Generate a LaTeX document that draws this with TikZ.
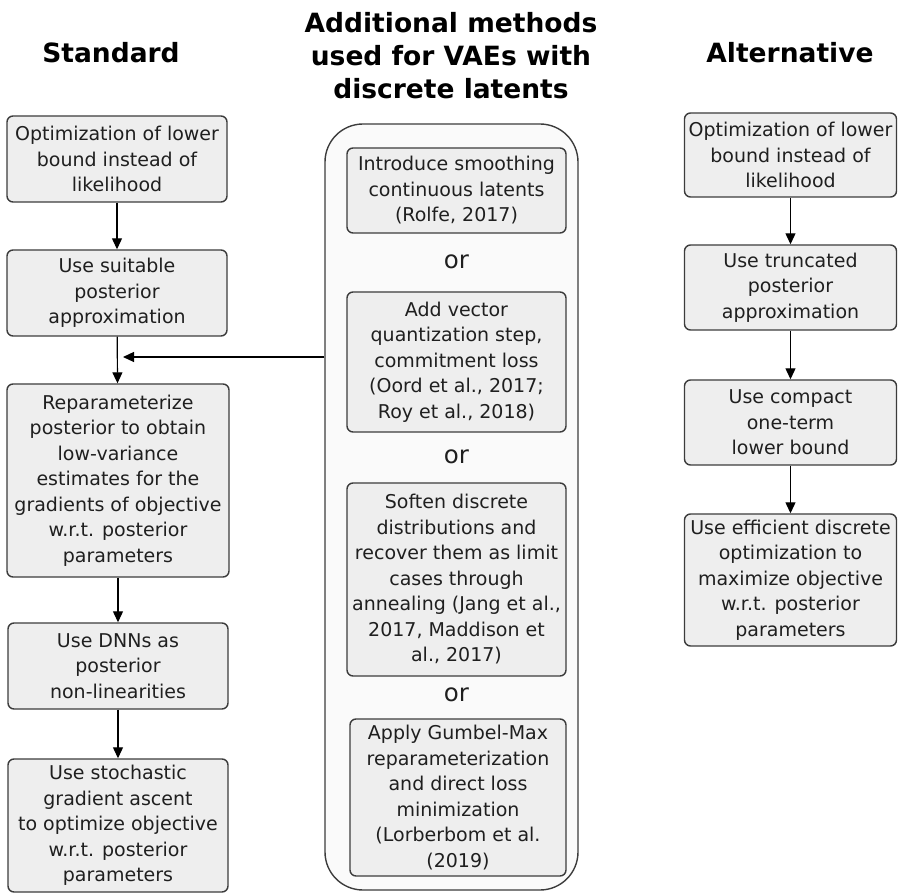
\documentclass[tikz,border=0pt]{standalone}
\usepackage{fontspec}
\setmainfont{DejaVu Sans}
\usetikzlibrary{arrows.meta}
\definecolor{boxfill}{HTML}{EEEEEE}
\definecolor{boxline}{HTML}{3C3C3C}
\definecolor{panelfill}{HTML}{FAFAFA}

\begin{document}
\begin{tikzpicture}[x=1pt,y=-1pt,
  stepbox/.style={draw=boxline,fill=boxfill,line width=1.4pt,rounded corners=6pt,
    align=center,inner sep=0pt,text=black!88,font=\fontsize{19}{25.5}\selectfont},
  headline/.style={font=\fontsize{26.5}{33}\selectfont\bfseries,align=center},
  ortext/.style={font=\fontsize{24.5}{30}\selectfont,text=black!88},
  flow/.style={line width=1.2pt,-{Triangle[length=11pt,width=10pt]}}]
\useasboundingbox (0,0) rectangle (898,893);
\node [headline,anchor=base] (hstd) at (111,63) {Standard};
\node [headline] (hadd) at (451,56) {Additional methods\\used for VAEs with\\discrete latents};
\node [headline,anchor=base] (halt) at (790,63) {Alternative};
\node [stepbox,minimum width=220pt,minimum height=86pt] (s1) at (117,159) {Optimization of lower\\bound instead of\\likelihood};
\node [stepbox,minimum width=220pt,minimum height=86pt] (s2) at (117,293) {Use suitable\\posterior\\approximation};
\node [stepbox,minimum width=222pt,minimum height=193pt] (s3) at (118,480.5) {Reparameterize\\posterior to obtain\\low-variance\\estimates for the\\gradients of objective\\w.r.t. posterior\\parameters};
\node [stepbox,minimum width=220pt,minimum height=86pt] (s4) at (118,666) {Use DNNs as\\posterior\\non-linearities};
\node [stepbox,minimum width=220pt,minimum height=133pt] (s5) at (118,825.5) {Use stochastic\\gradient ascent\\to optimize objective\\w.r.t. posterior\\parameters};
\draw [flow] (s1) -- (s2);
\draw [flow] (s2) -- (s3);
\draw [flow] (s3) -- (s4);
\draw [flow] (s4) -- (s5);
\node [draw=boxline,fill=panelfill,line width=1.4pt,rounded corners=38pt,
  minimum width=253pt,minimum height=766pt,inner sep=0pt] (panel) at (451.5,507) {};
\node [stepbox,minimum width=219pt,minimum height=85pt] (d1) at (456.5,190.5) {Introduce smoothing\\continuous latents\\(Rolfe, 2017)};
\node [ortext] (or1) at (456.5,262) {or};
\node [stepbox,minimum width=219pt,minimum height=140pt] (d2) at (456.5,362) {Add vector\\quantization step,\\commitment loss\\(Oord et al., 2017;\\Roy et al., 2018)};
\node [ortext] (or2) at (456.5,457) {or};
\node [stepbox,minimum width=219pt,minimum height=193pt] (d3) at (456.5,579.5) {Soften discrete\\distributions and\\recover them as limit\\cases through\\annealing (Jang et al.,\\2017, Maddison et\\al., 2017)};
\node [ortext] (or3) at (456.5,695) {or};
\node [stepbox,minimum width=216pt,minimum height=157pt] (d4) at (458,797.5) {Apply Gumbel-Max\\reparameterization\\and direct loss\\minimization\\(Lorberbom et al.\\(2019)};
\coordinate (join) at (123,357);
\draw [flow] (panel.west |- join) -- (join);
\node [stepbox,minimum width=212pt,minimum height=84pt] (a1) at (790.5,155) {Optimization of lower\\bound instead of\\likelihood};
\node [stepbox,minimum width=212pt,minimum height=85pt] (a2) at (790.5,287.5) {Use truncated\\posterior\\approximation};
\node [stepbox,minimum width=212pt,minimum height=85pt] (a3) at (790.5,422.5) {Use compact\\one-term\\lower bound};
\node [stepbox,minimum width=212pt,minimum height=132pt] (a4) at (790.5,580) {Use efficient discrete\\optimization to\\maximize objective\\w.r.t. posterior\\parameters};
\draw [flow] (a1) -- (a2);
\draw [flow] (a2) -- (a3);
\draw [flow] (a3) -- (a4);
\end{tikzpicture}
\end{document}
